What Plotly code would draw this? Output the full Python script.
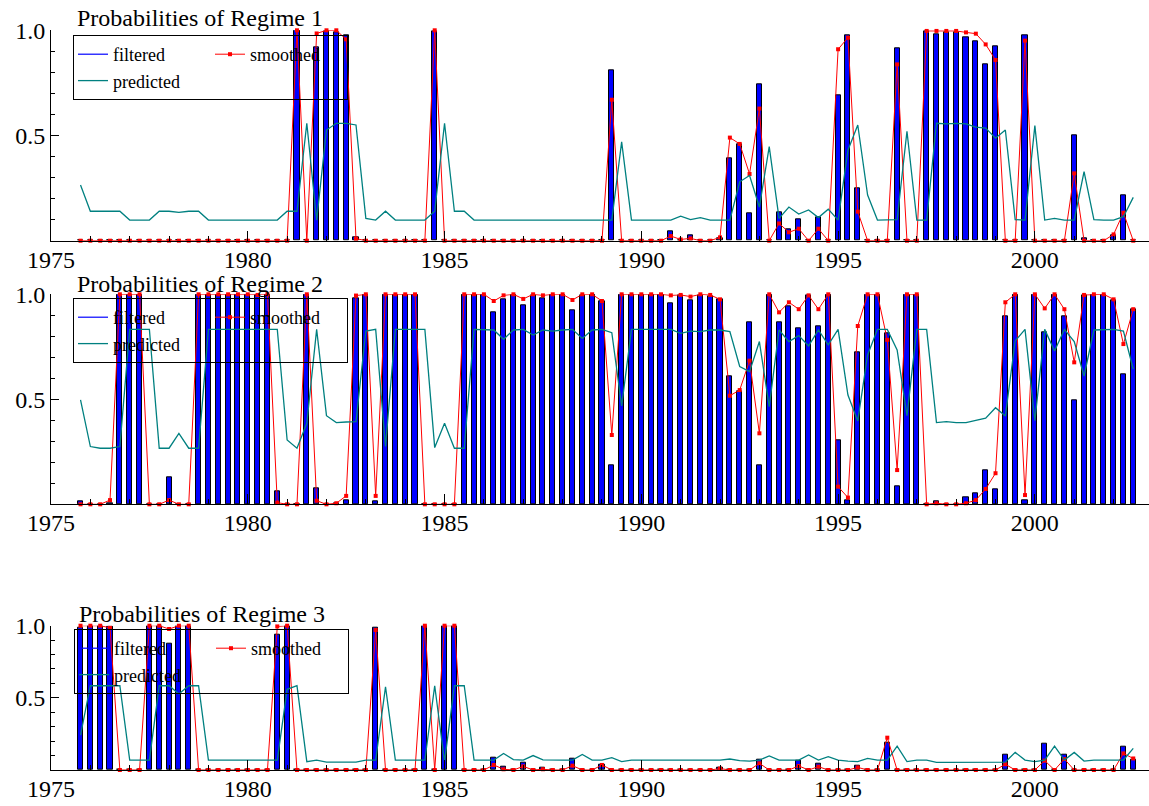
import plotly.graph_objects as go

# Quarterly observations 1975(4) .. 2002(3)
start_year = 1975.75
n_obs = 108
t = [start_year + 0.25 * k for k in range(n_obs)]

def full(pairs):
    out = [0.0] * n_obs
    for i, v in pairs.items():
        out[i] = v
    return out

# ---------------- Regime 1 ----------------
r1_filtered = full({22: 1.0, 24: 0.92, 25: 0.995, 26: 0.99, 27: 0.978, 28: 0.015,
                    36: 0.997, 54: 0.81, 60: 0.043, 62: 0.025, 65: 0.01,
                    66: 0.39, 67: 0.46, 68: 0.13, 69: 0.743, 71: 0.133, 72: 0.054,
                    73: 0.1, 75: 0.11, 77: 0.693, 78: 0.978, 79: 0.248, 83: 0.914,
                    86: 0.997, 87: 0.983, 88: 0.992, 89: 0.992, 90: 0.965, 91: 0.946,
                    92: 0.838, 93: 0.922, 96: 0.978, 101: 0.502, 102: 0.01,
                    105: 0.024, 106: 0.217})
r1_smoothed = full({22: 1.0, 24: 0.985, 25: 1.0, 26: 1.0, 27: 0.957, 28: 0.01,
                    36: 1.0, 54: 0.67, 60: 0.022, 61: 0.006, 62: 0.011, 65: 0.016,
                    66: 0.49, 67: 0.46, 68: 0.317, 69: 0.628, 71: 0.082, 72: 0.04,
                    73: 0.057, 75: 0.057, 77: 0.91, 78: 0.965, 79: 0.138, 83: 0.838,
                    86: 0.997, 87: 0.997, 88: 0.997, 89: 0.997, 90: 0.99, 91: 0.984,
                    92: 0.933, 93: 0.859, 96: 0.951, 101: 0.32, 105: 0.03, 106: 0.133})
r1_predicted = [0.265, 0.14, 0.14, 0.14, 0.14, 0.098, 0.098, 0.098, 0.14, 0.14,
                0.135, 0.14, 0.14, 0.098, 0.098, 0.098, 0.098, 0.098, 0.098, 0.098,
                0.098, 0.14, 0.14, 0.558, 0.098, 0.526, 0.558, 0.558, 0.55, 0.106,
                0.098, 0.14, 0.098, 0.098, 0.098, 0.098, 0.14, 0.558, 0.14, 0.14,
                0.098, 0.098, 0.1, 0.1, 0.098, 0.098, 0.1, 0.098, 0.1, 0.098,
                0.098, 0.1, 0.098, 0.098, 0.098, 0.47, 0.098, 0.098, 0.098, 0.098,
                0.098, 0.117, 0.1, 0.11, 0.098, 0.098, 0.098, 0.28, 0.31, 0.16,
                0.447, 0.106, 0.16, 0.127, 0.146, 0.11, 0.15, 0.098, 0.43, 0.55,
                0.217, 0.098, 0.098, 0.1, 0.52, 0.098, 0.098, 0.558, 0.555, 0.558,
                0.555, 0.54, 0.535, 0.487, 0.526, 0.1, 0.098, 0.547, 0.098, 0.106,
                0.098, 0.098, 0.328, 0.1, 0.098, 0.098, 0.114, 0.206]

# ---------------- Regime 2 ----------------
r2_filtered = [0.016, 0, 0, 0.005, 1, 1, 1, 0, 0, 0.127,
               0, 0, 1, 1, 1, 1, 1, 1, 0.995, 1,
               0.063, 0, 0, 1, 0.076, 0, 0.004, 0.02, 0.98, 1,
               0.013, 1, 1, 1, 1, 0, 0, 0, 0, 1,
               1, 1, 0.913, 0.976, 1, 0.949, 0.997, 0.981, 1, 1,
               0.922, 0.997, 1, 0.965, 0.187, 1, 1, 1, 1, 1,
               0.957, 0.995, 0.973, 0.997, 0.992, 0.976, 0.608, 0.537, 0.867, 0.187,
               1, 0.867, 0.944, 0.838, 0.995, 0.846, 1, 0.306, 0.02, 0.722,
               1, 1, 0.814, 0.084, 1, 1, 0, 0.016, 0, 0,
               0.033, 0.052, 0.163, 0.073, 0.894, 1, 0.02, 1, 0.817, 1,
               0.894, 0.497, 0.997, 1, 1, 0.973, 0.619, 0.929]
r2_smoothed = [0, 0, 0, 0.02, 1, 1, 1, 0, 0, 0.02,
               0, 0, 1, 1, 1, 1, 1, 1, 0.997, 1,
               0.008, 0, 0, 1, 0.017, 0, 0.005, 0.04, 0.994, 1,
               0.04, 1, 1, 1, 1, 0, 0, 0, 0, 1,
               1, 1, 0.968, 0.995, 1, 0.978, 1, 0.995, 1, 1,
               0.973, 1, 1, 0.968, 0.33, 1, 1, 1, 1, 1,
               0.995, 0.997, 0.989, 1, 0.997, 0.976, 0.517, 0.544, 0.684, 0.338,
               1, 0.914, 0.962, 0.929, 0.995, 0.929, 1, 0.084, 0.032, 0.849,
               1, 1, 0.783, 0.163, 1, 1, 0, 0.005, 0, 0,
               0.005, 0.02, 0.073, 0.148, 0.962, 1, 0.044, 1, 0.933, 1,
               0.929, 0.676, 0.997, 1, 1, 0.976, 0.763, 0.929]
r2_predicted = [0.497, 0.275, 0.267, 0.267, 0.275, 0.833, 0.833, 0.833, 0.267, 0.267,
                0.338, 0.267, 0.267, 0.833, 0.833, 0.833, 0.833, 0.833, 0.833, 0.833,
                0.833, 0.306, 0.267, 0.386, 0.833, 0.422, 0.389, 0.392, 0.394, 0.825,
                0.833, 0.275, 0.833, 0.833, 0.833, 0.833, 0.27, 0.386, 0.267, 0.267,
                0.833, 0.833, 0.83, 0.786, 0.83, 0.833, 0.806, 0.83, 0.825, 0.83,
                0.833, 0.79, 0.83, 0.833, 0.817, 0.468, 0.833, 0.833, 0.833, 0.833,
                0.833, 0.814, 0.825, 0.822, 0.83, 0.83, 0.822, 0.656, 0.632, 0.775,
                0.465, 0.83, 0.775, 0.803, 0.754, 0.83, 0.759, 0.833, 0.52, 0.397,
                0.711, 0.833, 0.833, 0.735, 0.422, 0.833, 0.833, 0.389, 0.394, 0.389,
                0.389, 0.4, 0.41, 0.46, 0.42, 0.778, 0.833, 0.398, 0.833, 0.73,
                0.833, 0.775, 0.611, 0.83, 0.833, 0.833, 0.825, 0.643]

# ---------------- Regime 3 ----------------
r3_filtered = full({0: 0.984, 1: 1.0, 2: 1.0, 3: 0.995, 7: 1.0, 8: 1.0, 9: 0.873,
                    10: 1.0, 11: 1.0, 20: 0.937, 21: 1.0, 27: 0.005, 28: 0.005,
                    30: 0.987, 35: 1.0, 37: 1.0, 38: 1.0, 42: 0.087, 43: 0.024,
                    45: 0.051, 47: 0.019, 50: 0.078, 53: 0.035, 65: 0.014, 69: 0.07,
                    73: 0.062, 74: 0.005, 75: 0.044, 79: 0.03, 82: 0.186, 94: 0.106,
                    98: 0.183, 100: 0.106, 106: 0.164, 107: 0.071})
r3_smoothed = full({0: 1.0, 1: 1.0, 2: 1.0, 3: 0.985, 7: 1.0, 8: 1.0, 9: 0.977,
                    10: 1.0, 11: 1.0, 20: 0.995, 21: 1.0, 30: 0.97, 35: 1.0, 37: 1.0,
                    38: 1.0, 42: 0.035, 43: 0.005, 45: 0.025, 47: 0.005, 50: 0.03,
                    53: 0.035, 65: 0.01, 69: 0.046, 73: 0.028, 75: 0.023, 79: 0.018,
                    82: 0.224, 94: 0.04, 98: 0.065, 100: 0.076, 106: 0.115, 107: 0.08})
r3_predicted = [0.242, 0.584, 0.584, 0.584, 0.584, 0.069, 0.069, 0.069, 0.584, 0.584,
                0.527, 0.584, 0.584, 0.069, 0.069, 0.069, 0.069, 0.069, 0.069, 0.069,
                0.069, 0.559, 0.584, 0.058, 0.069, 0.055, 0.055, 0.055, 0.055, 0.069,
                0.069, 0.577, 0.069, 0.069, 0.069, 0.069, 0.584, 0.058, 0.584, 0.584,
                0.069, 0.069, 0.069, 0.115, 0.072, 0.069, 0.1, 0.07, 0.072, 0.069,
                0.069, 0.108, 0.069, 0.069, 0.085, 0.058, 0.069, 0.069, 0.069, 0.069,
                0.069, 0.069, 0.069, 0.069, 0.069, 0.069, 0.076, 0.065, 0.062, 0.069,
                0.097, 0.069, 0.069, 0.069, 0.104, 0.069, 0.092, 0.069, 0.062, 0.058,
                0.08, 0.069, 0.069, 0.166, 0.058, 0.069, 0.069, 0.053, 0.053, 0.053,
                0.053, 0.053, 0.053, 0.053, 0.055, 0.122, 0.069, 0.058, 0.069, 0.166,
                0.069, 0.122, 0.062, 0.069, 0.069, 0.069, 0.069, 0.15]

titles = ["Probabilities of Regime 1", "Probabilities of Regime 2", "Probabilities of Regime 3"]
series_names = ["filtered", "smoothed", "predicted"]
x_tick_years = [1975, 1980, 1985, 1990, 1995, 2000]

# ---------------- layout constants ----------------
W, H = 1149, 806
FONT = "Liberation Serif"
BLUE = "#0000FF"
RED = "#FF0000"
TEAL = "#008080"

rows_px = [(30.3, 240.7), (294.3, 504.3), (625.7, 770.0)]
legend_px = [(73, 35), (73, 298), (74, 629)]
title_px = [(75, 18), (75, 284), (77, 614)]

panels = [
    (r1_filtered, r1_smoothed, r1_predicted),
    (r2_filtered, r2_smoothed, r2_predicted),
    (r3_filtered, r3_smoothed, r3_predicted),
]

fig = go.Figure()
layout = dict(
    width=W, height=H,
    margin=dict(l=51, r=0, t=0, b=0),
    paper_bgcolor="white", plot_bgcolor="white",
    font=dict(family=FONT, color="black"),
    showlegend=True,
    bargap=0,
    annotations=[],
)

for k, (filt, smooth, pred) in enumerate(panels):
    sfx = "" if k == 0 else str(k + 1)
    xa, ya, lg = "x" + sfx, "y" + sfx, "legend" + sfx
    fig.add_trace(go.Bar(
        x=t, y=filt, width=0.13, xaxis=xa, yaxis=ya, showlegend=False,
        marker=dict(color=BLUE, line=dict(color="black", width=1)),
        name=series_names[0]))
    fig.add_trace(go.Scatter(
        x=[None], y=[None], mode="lines", xaxis=xa, yaxis=ya,
        line=dict(color=BLUE, width=1.2), name=series_names[0],
        legend=lg, legendgroup="a" + sfx))
    fig.add_trace(go.Scatter(
        x=t, y=smooth, mode="lines+markers", xaxis=xa, yaxis=ya, cliponaxis=False,
        line=dict(color=RED, width=1),
        marker=dict(symbol="square", size=4, color=RED, line=dict(width=0)),
        name=series_names[1], legend=lg, legendgroup="b" + sfx))
    fig.add_trace(go.Scatter(
        x=t, y=pred, mode="lines", xaxis=xa, yaxis=ya, cliponaxis=False,
        line=dict(color=TEAL, width=1.3),
        name=series_names[2], legend=lg, legendgroup="a" + sfx))

    top, bot = rows_px[k]
    layout["xaxis" + sfx] = dict(
        domain=[0, 1], range=[1975, 2002.9], anchor=ya,
        showline=True, linecolor="black", linewidth=1,
        ticks="inside", ticklen=10, tickcolor="black", tickwidth=1,
        tickmode="array", tickvals=x_tick_years, ticktext=[str(v) for v in x_tick_years],
        tickfont=dict(family=FONT, size=24, color="black"), ticklabelstandoff=-3,
        minor=dict(dtick=1, tick0=1975, ticklen=5, ticks="inside", tickcolor="black"),
        showgrid=False, zeroline=False, automargin=False)
    layout["yaxis" + sfx] = dict(
        domain=[1 - bot / H, 1 - top / H], range=[0, 1], anchor=xa,
        showline=True, linecolor="black", linewidth=1,
        ticks="inside", ticklen=8, tickcolor="black",
        tickmode="array", tickvals=[0.5, 1.0], ticktext=["0.5", "1.0"],
        tickfont=dict(family=FONT, size=24, color="black"),
        minor=dict(dtick=0.1, tick0=0, ticklen=4, ticks="inside", tickcolor="black"),
        showgrid=False, zeroline=False, automargin=False)
    lx, ly = legend_px[k]
    layout[lg] = dict(
        orientation="h", traceorder="grouped", tracegroupgap=0,
        x=(lx - 51) / (W - 51), y=1 - ly / H, xref="paper", yref="paper",
        xanchor="left", yanchor="top",
        bgcolor="rgba(0,0,0,0)", bordercolor="black", borderwidth=1,
        font=dict(family=FONT, size=18, color="black"), itemwidth=30,
        entrywidth=92, entrywidthmode="pixels")
    tx, ty = title_px[k]
    layout["annotations"].append(dict(
        text=titles[k], xref="paper", yref="paper",
        x=(tx - 51) / (W - 51), y=1 - ty / H, xanchor="left", yanchor="middle",
        showarrow=False, font=dict(family=FONT, size=24, color="black")))

fig.update_layout(**layout)
fig.write_html("out.html")
